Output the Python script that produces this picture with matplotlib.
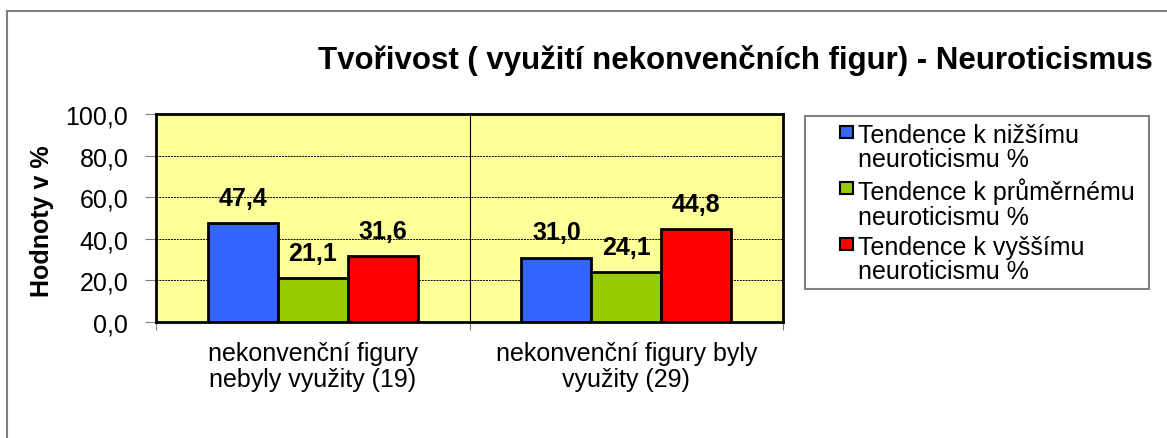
import numpy as np
import matplotlib
matplotlib.use('Agg')
import matplotlib.pyplot as plt
from matplotlib.patches import Rectangle
from matplotlib.lines import Line2D

plt.rcParams['font.family'] = ['Liberation Sans', 'DejaVu Sans']

categories = ['nekonvenční figury\nnebyly využity (19)', 'nekonvenční figury byly\nvyužity (29)']
series = ['Tendence k nižšímu\nneuroticismu %',
          'Tendence k průměrnému\nneuroticismu %',
          'Tendence k vyššímu\nneuroticismu %']
values = [
    [47.4, 31.0],
    [21.1, 24.1],
    [31.6, 44.8],
]
colors = ['#3366FF', '#99CC00', '#FF0000']
title = 'Tvořivost ( využití nekonvenčních figur) - Neuroticismus'

W, H = 1167, 439


def px(x, y):
    # pixel position -> figure fraction
    return x / W, 1 - y / H


fig = plt.figure(figsize=(W / 100, H / 100), dpi=100)
ax = fig.add_axes([0.1337, 0.2642, 0.5373, 0.4738])
ax.set_facecolor('#FFFF99')

x = np.arange(len(categories))
w = 0.223
for i, (vals, c) in enumerate(zip(values, colors)):
    pos = x + (i - 1) * w
    ax.bar(pos, vals, width=w, color=c, edgecolor='black', linewidth=2, zorder=3)
    for p, v in zip(pos, vals):
        ax.annotate(f'{v:.1f}'.replace('.', ','), (p, v), xytext=(0, 13),
                    textcoords='offset points', ha='center', va='baseline',
                    fontsize=18, fontweight='bold', zorder=4)

ax.set_xlim(-0.5, len(categories) - 0.5)
ax.set_ylim(0, 100)
yt = np.arange(0, 101, 20)
ax.set_yticks(yt)
ax.set_yticklabels([f'{t:.1f}'.replace('.', ',') for t in yt], fontsize=18)
ax.yaxis.grid(True, color='black', linestyle=(0, (2, 1)), linewidth=0.7, zorder=1)
ax.set_xticks([-0.5, 0.5, 1.5])
ax.set_xticklabels([])
ax.set_xticks(x, minor=True)
ax.set_xticklabels(categories, minor=True, fontsize=18, linespacing=1.1)
ax.tick_params(axis='x', which='minor', length=0, pad=14)
ax.tick_params(axis='x', which='major', length=6, color='gray')
ax.tick_params(axis='y', length=8, color='gray', pad=12)
ax.axvline(0.5, color='black', linewidth=0.8, zorder=2)
for s in ax.spines.values():
    s.set_linewidth(2)

ax.set_ylabel('Hodnoty v %', fontsize=18, fontweight='bold', va='center')
ax.yaxis.set_label_coords(-0.182, 0.49)

fig.text(*px(735, 60), title, ha='center', va='center', fontsize=22.5, fontweight='bold')

# legend box
lx0, ly0 = px(805, 290)
lx1, ly1 = px(1149, 117)
fig.add_artist(Rectangle((lx0, ly0), lx1 - lx0, ly1 - ly0, transform=fig.transFigure,
                         facecolor='white', edgecolor='gray', linewidth=1.5))
for i, (lab, c) in enumerate(zip(series, colors)):
    yc = 133 + 56 * i
    mx, my = px(840, yc + 6)
    fig.add_artist(Rectangle((mx, my), 13 / W, 12 / H, transform=fig.transFigure,
                             facecolor=c, edgecolor='black', linewidth=1.5))
    fig.text(*px(858, 148 + 56 * i), lab, ha='left', va='center',
             fontsize=18, linespacing=1.05)

# outer chart frame
fig.add_artist(Line2D([7 / W, 7 / W], [0, 1 - 12 / H], color='gray', linewidth=1.5))
fig.add_artist(Line2D([7 / W, 1], [1 - 12 / H, 1 - 12 / H], color='gray', linewidth=1.5))

fig.savefig('out.png', dpi=100)
